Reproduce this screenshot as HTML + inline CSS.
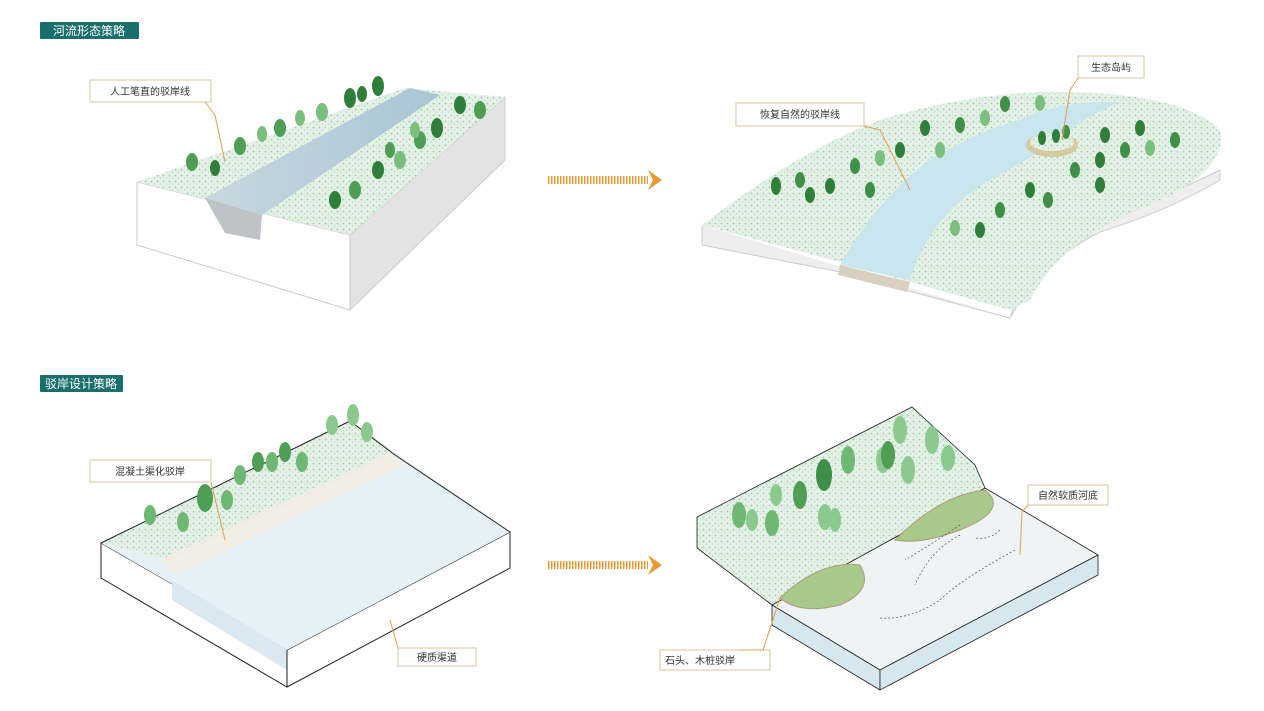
<!DOCTYPE html>
<html><head><meta charset="utf-8"><style>
body{margin:0;background:#fff;width:1264px;height:711px;overflow:hidden;font-family:"Liberation Sans","Noto Sans CJK SC",sans-serif}
svg{position:absolute;left:0;top:0}
.t{font-family:"Liberation Sans","Noto Sans CJK SC",sans-serif;font-size:10px;fill:#333}
</style></head><body>
<svg width="1264" height="711" viewBox="0 0 1264 711">
<defs>
<pattern id="g" width="6" height="6" patternUnits="userSpaceOnUse"><rect width="6" height="6" fill="#e4f1e6"/><circle cx="1.5" cy="1.5" r="0.9" fill="#9fcaa6"/><circle cx="4.5" cy="4" r="0.8" fill="#b9d9bd"/></pattern>
<linearGradient id="w" x1="0" y1="0" x2="1" y2="0"><stop offset="0" stop-color="#c7d7de"/><stop offset="1" stop-color="#a9c5d6"/></linearGradient>
</defs>
<rect x="40" y="22" width="99" height="17" fill="#186f6b" rx="1"/>
<text x="89" y="35" text-anchor="middle" font-size="12" fill="#fff" font-family="Liberation Sans,Noto Sans CJK SC,sans-serif">河流形态策略</text>
<rect x="40" y="375" width="83" height="17" fill="#186f6b" rx="1"/>
<text x="81" y="388" text-anchor="middle" font-size="12" fill="#fff" font-family="Liberation Sans,Noto Sans CJK SC,sans-serif">驳岸设计策略</text>

<polygon points="137,182 137,245 350,310 350,235" fill="#fff" stroke="#ccc"/>
<polygon points="350,235 505,97 505,160 350,310" fill="#e3e3e3" stroke="#ccc"/>
<polygon points="137,182 405,88 505,97 350,235" fill="url(#g)"/>
<polygon points="205,198 410,88 440,95 262,215" fill="url(#w)"/>
<polygon points="205,198 262,215 260,240 225,233" fill="#bdc3c6"/>
<g fill="#4f9e55">
<ellipse cx="192" cy="162" rx="6" ry="9"/><ellipse cx="215" cy="168" rx="5" ry="8" fill="#2f7f3a"/><ellipse cx="240" cy="146" rx="6" ry="9"/><ellipse cx="262" cy="134" rx="5" ry="8" fill="#7bbf7c"/><ellipse cx="280" cy="128" rx="6" ry="9"/><ellipse cx="300" cy="118" rx="5" ry="8" fill="#7bbf7c"/><ellipse cx="322" cy="112" rx="6" ry="9" fill="#7bbf7c"/><ellipse cx="350" cy="98" rx="6" ry="10" fill="#2f7f3a"/><ellipse cx="378" cy="86" rx="6" ry="10" fill="#2f7f3a"/><ellipse cx="362" cy="94" rx="5" ry="8" fill="#2f7f3a"/>
<ellipse cx="335" cy="200" rx="6" ry="9" fill="#2f7f3a"/><ellipse cx="355" cy="190" rx="6" ry="9"/><ellipse cx="378" cy="170" rx="6" ry="9" fill="#2f7f3a"/><ellipse cx="400" cy="160" rx="6" ry="9" fill="#7bbf7c"/><ellipse cx="420" cy="140" rx="6" ry="9"/><ellipse cx="437" cy="128" rx="6" ry="10" fill="#2f7f3a"/><ellipse cx="460" cy="105" rx="6" ry="9" fill="#2f7f3a"/><ellipse cx="480" cy="110" rx="6" ry="9"/><ellipse cx="415" cy="130" rx="5" ry="8" fill="#7bbf7c"/><ellipse cx="390" cy="150" rx="5" ry="8"/>
</g>
<rect x="90" y="80" width="121" height="22" fill="#fff" stroke="#d8c4a0"/>
<text class="t" x="150" y="95" text-anchor="middle">人工笔直的驳岸线</text>
<polyline points="205,102 215,115 225,162" fill="none" stroke="#e0a050"/>

<g stroke="#e89a30" stroke-width="8" stroke-dasharray="1.5 1.5"><line x1="548" y1="180" x2="648" y2="180"/><line x1="548" y1="565" x2="648" y2="565"/></g>
<polygon points="648,170 662,180 648,190 653,180" fill="#e89a30"/>
<polygon points="648,555 662,565 648,575 653,565" fill="#e89a30"/>

<path d="M702,225 L702,245 L840,272 L845,275 L905,290 L1010,318 Q1030,250 1100,220 Q1170,195 1220,170 L1220,180 Q1170,210 1100,232 Q1040,262 1010,318" fill="#eee" stroke="#ccc"/>
<path d="M702,225 Q800,150 880,120 Q960,95 1040,92 Q1180,90 1220,130 Q1230,170 1150,205 Q1060,240 1030,300 L1010,310 L910,282 L840,262 Z" fill="url(#g)"/>
<path d="M840,265 Q880,195 930,160 Q980,130 1020,120 Q1060,100 1120,102 Q1090,115 1070,130 Q1030,160 990,180 Q930,215 910,280 Z" fill="#c9e6ef"/>
<ellipse cx="1052" cy="145" rx="26" ry="12" fill="#d6c9a0"/><ellipse cx="1052" cy="142" rx="22" ry="9" fill="url(#g)"/>
<polygon points="840,265 910,282 907,292 838,275" fill="#d8cfbf"/>
<g fill="#3f8f48">
<ellipse cx="776" cy="186" rx="5" ry="9" fill="#2f7f3a"/><ellipse cx="800" cy="180" rx="5" ry="8"/><ellipse cx="830" cy="186" rx="5" ry="8" fill="#2f7f3a"/><ellipse cx="855" cy="166" rx="5" ry="8"/><ellipse cx="880" cy="158" rx="5" ry="8" fill="#7bbf7c"/><ellipse cx="900" cy="150" rx="5" ry="8" fill="#2f7f3a"/><ellipse cx="925" cy="128" rx="5" ry="8" fill="#2f7f3a"/><ellipse cx="960" cy="125" rx="5" ry="8"/><ellipse cx="985" cy="118" rx="5" ry="8" fill="#7bbf7c"/><ellipse cx="1005" cy="104" rx="5" ry="8"/><ellipse cx="1040" cy="103" rx="5" ry="8" fill="#7bbf7c"/><ellipse cx="870" cy="190" rx="5" ry="8"/><ellipse cx="940" cy="150" rx="5" ry="8" fill="#7bbf7c"/><ellipse cx="810" cy="195" rx="5" ry="8" fill="#2f7f3a"/>
<ellipse cx="955" cy="228" rx="5" ry="8" fill="#7bbf7c"/><ellipse cx="980" cy="230" rx="5" ry="8" fill="#2f7f3a"/><ellipse cx="1000" cy="210" rx="5" ry="8"/><ellipse cx="1030" cy="190" rx="5" ry="8" fill="#2f7f3a"/><ellipse cx="1048" cy="200" rx="5" ry="8"/><ellipse cx="1075" cy="170" rx="5" ry="8"/><ellipse cx="1100" cy="160" rx="5" ry="8" fill="#2f7f3a"/><ellipse cx="1125" cy="150" rx="5" ry="8"/><ellipse cx="1150" cy="148" rx="5" ry="8" fill="#7bbf7c"/><ellipse cx="1175" cy="140" rx="5" ry="8"/><ellipse cx="1140" cy="128" rx="5" ry="8" fill="#2f7f3a"/><ellipse cx="1105" cy="135" rx="5" ry="8" fill="#2f7f3a"/><ellipse cx="1100" cy="185" rx="5" ry="8" fill="#2f7f3a"/>
<ellipse cx="1042" cy="138" rx="4" ry="7" fill="#2f7f3a"/><ellipse cx="1056" cy="136" rx="4" ry="7" fill="#2f7f3a"/><ellipse cx="1066" cy="132" rx="4" ry="7"/>
</g>
<rect x="736" y="103" width="128" height="23" fill="#fff" stroke="#d8c4a0"/>
<text class="t" x="800" y="118" text-anchor="middle">恢复自然的驳岸线</text>
<polyline points="864,126 880,130 910,190" fill="none" stroke="#e0a050"/>
<rect x="1078" y="56" width="66" height="22" fill="#fff" stroke="#d8c4a0"/>
<text class="t" x="1111" y="71" text-anchor="middle">生态岛屿</text>
<polyline points="1078,78 1070,90 1062,140" fill="none" stroke="#e0a050"/>

<polygon points="101,543 101,578 287,687 510,568 510,532 287,650" fill="#fff" stroke="#222"/>
<polygon points="101,543 350,421 510,532 287,650" fill="#e6f1f7"/>
<polygon points="172,580 287,650 287,670 172,600" fill="#d9e8f1"/>
<polygon points="101,543 350,421 395,455 172,560" fill="url(#g)"/>
<polygon points="160,560 390,452 405,465 175,575" fill="#f3ece2" opacity=".9"/>
<line x1="101" y1="543" x2="350" y2="421" stroke="#222"/><line x1="350" y1="421" x2="395" y2="455" stroke="#222"/><line x1="395" y1="455" x2="510" y2="532" stroke="#222"/>
<line x1="287" y1="650" x2="287" y2="687" stroke="#222"/>
<g fill="#6fb873">
<ellipse cx="150" cy="515" rx="6" ry="10"/><ellipse cx="183" cy="522" rx="6" ry="10"/><ellipse cx="205" cy="498" rx="8" ry="14" fill="#4f9e55"/><ellipse cx="227" cy="500" rx="6" ry="10"/><ellipse cx="240" cy="475" rx="6" ry="10"/><ellipse cx="258" cy="462" rx="6" ry="10" fill="#4f9e55"/><ellipse cx="272" cy="462" rx="6" ry="10"/><ellipse cx="285" cy="452" rx="6" ry="10" fill="#4f9e55"/><ellipse cx="302" cy="462" rx="6" ry="10"/><ellipse cx="332" cy="425" rx="6" ry="10" fill="#8bc98e"/><ellipse cx="353" cy="415" rx="6" ry="11" fill="#8bc98e"/><ellipse cx="367" cy="432" rx="6" ry="10" fill="#8bc98e"/>
</g>
<rect x="90" y="460" width="121" height="22" fill="#fff" stroke="#d8c4a0"/>
<text class="t" x="150" y="475" text-anchor="middle">混凝土渠化驳岸</text>
<polyline points="211,482 225,540" fill="none" stroke="#e0a050"/>
<rect x="398" y="648" width="78" height="18" fill="#fff" stroke="#d8c4a0"/>
<text class="t" x="437" y="661" text-anchor="middle">硬质渠道</text>
<polyline points="398,648 390,620" fill="none" stroke="#e0a050"/>

<polygon points="772,605 985,488 1098,555 880,670" fill="#edf4f3" stroke="#222" stroke-width=".8"/>
<polygon points="772,605 880,670 880,690 772,625" fill="#d6e7f0" stroke="#222" stroke-width=".8"/>
<polygon points="880,670 1098,555 1098,575 880,690" fill="#d6e7f0" stroke="#222" stroke-width=".8"/>
<polygon points="697,517 912,407 975,465 985,488 772,605 697,548" fill="url(#g)" stroke="#222" stroke-width=".8"/>
<path d="M780,598 Q820,560 860,565 Q875,590 840,605 Q800,615 780,598Z" fill="#a8c98a" stroke="#b09a80"/>
<path d="M895,540 Q940,495 985,490 Q1010,510 960,530 Q920,545 895,540Z" fill="#a8c98a" stroke="#b09a80"/>
<g fill="#6fb873">
<ellipse cx="739" cy="515" rx="7" ry="13"/><ellipse cx="752" cy="520" rx="6" ry="11" fill="#8bc98e"/><ellipse cx="772" cy="523" rx="7" ry="13"/><ellipse cx="776" cy="495" rx="6" ry="11" fill="#8bc98e"/><ellipse cx="800" cy="495" rx="7" ry="14" fill="#4f9e55"/><ellipse cx="825" cy="517" rx="7" ry="13" fill="#8bc98e"/><ellipse cx="824" cy="475" rx="8" ry="16" fill="#3f8f48"/><ellipse cx="848" cy="460" rx="7" ry="14"/><ellipse cx="883" cy="460" rx="7" ry="13" fill="#8bc98e"/><ellipse cx="888" cy="455" rx="7" ry="14" fill="#4f9e55"/><ellipse cx="900" cy="430" rx="7" ry="14" fill="#8bc98e"/><ellipse cx="908" cy="470" rx="7" ry="14" fill="#8bc98e"/><ellipse cx="932" cy="440" rx="7" ry="14" fill="#8bc98e"/><ellipse cx="948" cy="458" rx="7" ry="13" fill="#8bc98e"/><ellipse cx="835" cy="520" rx="6" ry="12" fill="#8bc98e"/>
</g>
<g fill="none" stroke="#555" stroke-dasharray="2 2" stroke-width=".7"><path d="M1015,550 Q960,580 940,600 Q910,620 880,618"/><path d="M960,535 Q930,550 915,585"/><path d="M960,525 Q930,545 905,560"/><path d="M1000,530 Q990,540 975,538"/></g>
<rect x="1028" y="485" width="80" height="20" fill="#fff" stroke="#d8c4a0"/>
<text class="t" x="1068" y="499" text-anchor="middle">自然软质河底</text>
<polyline points="1028,505 1022,512 1020,555" fill="none" stroke="#e0a050"/>
<rect x="660" y="650" width="110" height="20" fill="#fff" stroke="#d8c4a0"/>
<text class="t" x="700" y="664" text-anchor="middle">石头、木桩驳岸</text>
<polyline points="740,650 763,650 780,598" fill="none" stroke="#e0a050"/>
</svg>
</body></html>
